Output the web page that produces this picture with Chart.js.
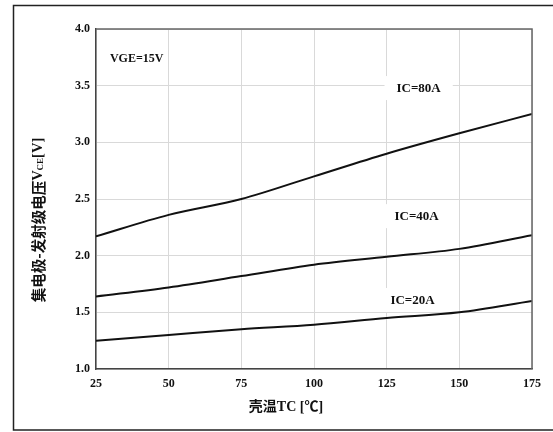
<!DOCTYPE html>
<html>
<head>
<meta charset="utf-8">
<script src="https://cdn.jsdelivr.net/npm/chart.js@4.4.1/dist/chart.umd.min.js"></script>
<style>
  html, body { margin: 0; padding: 0; background: #fff; }
  #wrap { width: 553px; height: 432px; }
</style>
</head>
<body>
<div id="wrap"><canvas id="vceChart" width="553" height="432"></canvas></div>
<script>
// case temperature (°C)
const temps = [25, 50, 75, 100, 125, 150, 175];
// VCE at each current
const vce80 = [2.17, 2.36, 2.50, 2.70, 2.90, 3.08, 3.25];
const vce40 = [1.64, 1.72, 1.82, 1.92, 1.99, 2.06, 2.18];
const vce20 = [1.25, 1.30, 1.35, 1.39, 1.45, 1.50, 1.60];
const seriesLabels = ['IC=80A', 'IC=40A', 'IC=20A'];
const xTicks = [25, 50, 75, 100, 125, 150, 175];
const yTicks = [1.0, 1.5, 2.0, 2.5, 3.0, 3.5, 4.0];

const serif = '"Liberation Serif", "Times New Roman", serif';
const cjk = '"Liberation Serif", "Noto Sans CJK SC", serif';

function toPoints(vals) {
  return vals.map((v, i) => ({ x: temps[i], y: v }));
}

// in-plot notes: text, position in data units, font size, white box behind
const notes = [
  { text: 'VGE=15V', t: 39, v: 3.735, size: 12, box: false },
  { text: seriesLabels[0], t: 136, v: 3.47, size: 13, box: true },
  { text: seriesLabels[1], t: 135.3, v: 2.34, size: 13, box: true },
  { text: seriesLabels[2], t: 133.9, v: 1.60, size: 13, box: true }
];

// ----------- frame + annotations -----------
const framePlugin = {
  id: 'frame',
  beforeDraw(chart) {
    const ctx = chart.ctx;
    ctx.save();
    ctx.strokeStyle = '#222';
    ctx.lineWidth = 1.5;
    ctx.beginPath();
    ctx.moveTo(553, 5.5);
    ctx.lineTo(13.5, 5.5);
    ctx.lineTo(13.5, 430);
    ctx.lineTo(553, 430);
    ctx.stroke();
    ctx.restore();
  },
  beforeDatasetsDraw(chart) {
    // white boxes mask the grid, curves go on top
    const ctx = chart.ctx;
    const xs = chart.scales.x, ys = chart.scales.y;
    ctx.save();
    notes.filter(n => n.box).forEach(n => {
      ctx.font = 'bold ' + n.size + 'px ' + serif;
      const w = ctx.measureText(n.text).width;
      const cx = xs.getPixelForValue(n.t);
      const cy = ys.getPixelForValue(n.v);
      ctx.fillStyle = '#fff';
      ctx.fillRect(cx - w / 2 - 12, cy - 13, w + 24, 24);
    });
    ctx.restore();
  },
  afterDatasetsDraw(chart) {
    const ctx = chart.ctx;
    const xs = chart.scales.x, ys = chart.scales.y;
    ctx.save();
    notes.forEach(n => {
      ctx.font = 'bold ' + n.size + 'px ' + serif;
      ctx.fillStyle = '#111';
      ctx.textAlign = 'center';
      ctx.textBaseline = 'middle';
      ctx.fillText(n.text, xs.getPixelForValue(n.t), ys.getPixelForValue(n.v));
    });

    // x axis title
    ctx.font = 'bold 14px ' + cjk;
    ctx.textAlign = 'center';
    ctx.textBaseline = 'middle';
    ctx.fillStyle = '#111';
    ctx.fillText('壳温TC [℃]', 286, 407);

    // y axis title with subscript
    const parts = [
      { s: '集电极-发射级电压', f: 'bold 14.5px "Noto Sans CJK SC", sans-serif', dy: 0 },
      { s: 'V', f: 'bold 14.5px ' + serif, dy: 0 },
      { s: 'CE', f: 'bold 9px ' + serif, dy: 3 },
      { s: '[V]', f: 'bold 14.5px ' + serif, dy: 0 }
    ];
    let total = 0;
    parts.forEach(p => { ctx.font = p.f; p.w = ctx.measureText(p.s).width; total += p.w; });
    ctx.translate(38, 220);
    ctx.rotate(-Math.PI / 2);
    ctx.textAlign = 'left';
    let px = -total / 2;
    parts.forEach(p => {
      ctx.font = p.f;
      ctx.fillText(p.s, px, p.dy);
      px += p.w;
    });
    ctx.restore();
  }
};

const lineStyle = {
  borderColor: '#111',
  borderWidth: 2,
  pointRadius: 0,
  fill: false,
  cubicInterpolationMode: 'monotone'
};

new Chart(document.getElementById('vceChart'), {
  type: 'line',
  data: {
    datasets: [
      { label: seriesLabels[0], data: toPoints(vce80), ...lineStyle },
      { label: seriesLabels[1], data: toPoints(vce40), ...lineStyle },
      { label: seriesLabels[2], data: toPoints(vce20), ...lineStyle }
    ]
  },
  options: {
    responsive: false,
    animation: false,
    devicePixelRatio: 1,
    layout: { padding: { top: 29, right: 21, left: 0, bottom: 0 } },
    plugins: {
      legend: { display: false },
      tooltip: { enabled: false },
      title: { display: false }
    },
    scales: {
      x: {
        type: 'linear',
        min: 25,
        max: 175,
        afterBuildTicks: s => { s.ticks = xTicks.map(v => ({ value: v })); },
        afterFit: s => { s.height = 63; },
        grid: { color: '#d9d9d9', lineWidth: 1, drawTicks: false },
        border: { color: '#444', width: 1.5 },
        ticks: { color: '#111', padding: 8, font: { family: serif, size: 12, weight: 'bold' } }
      },
      y: {
        min: 1,
        max: 4,
        afterBuildTicks: s => { s.ticks = yTicks.map(v => ({ value: v })); },
        afterFit: s => { s.width = 96; },
        grid: { color: '#d9d9d9', lineWidth: 1, drawTicks: false },
        border: { color: '#444', width: 1.5 },
        ticks: {
          color: '#111',
          padding: 6,
          font: { family: serif, size: 12, weight: 'bold' },
          callback: v => v.toFixed(1)
        }
      }
    }
  },
  plugins: [framePlugin, {
    id: 'plotBorder',
    afterDraw(chart) {
      const a = chart.chartArea, ctx = chart.ctx;
      ctx.save();
      ctx.strokeStyle = '#666';
      ctx.lineWidth = 1.5;
      ctx.beginPath();
      ctx.moveTo(a.left, a.top);
      ctx.lineTo(a.right, a.top);
      ctx.lineTo(a.right, a.bottom);
      ctx.stroke();
      ctx.restore();
    }
  }]
});
</script>
</body>
</html>
